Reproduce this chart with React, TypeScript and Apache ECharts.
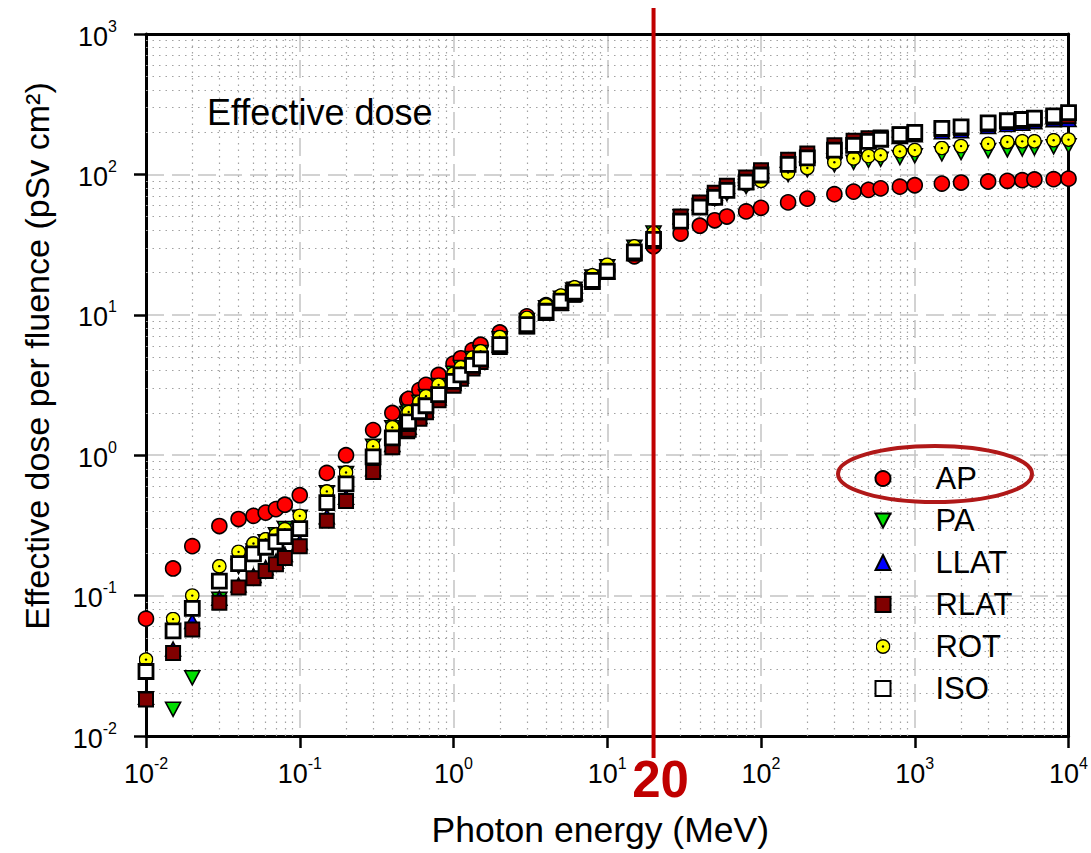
import React, { useEffect, useRef } from "react";
import * as echarts from "echarts";

const FONT = '"Liberation Sans", Arial, Helvetica, sans-serif';

// Photon energy (MeV)
const ENERGY = [
  0.01, 0.015, 0.02, 0.03, 0.04, 0.05, 0.06, 0.07, 0.08, 0.1,
  0.15, 0.2, 0.3, 0.4, 0.5, 0.511, 0.6, 0.662, 0.8, 1,
  1.117, 1.33, 1.5, 2, 3, 4, 5, 6, 6.129, 8, 10,
  15, 20, 30, 40, 50, 60, 80, 100,
  150, 200, 300, 400, 500, 600, 800, 1000,
  1500, 2000, 3000, 4000, 5000, 6000, 8000, 10000,
];

// Effective dose per fluence (pSv cm2)
const AP = [
  0.0685, 0.156, 0.225, 0.313, 0.351, 0.37, 0.39, 0.413, 0.444, 0.519,
  0.748, 1.0, 1.51, 2.0, 2.47, 2.52, 2.91, 3.17, 3.73, 4.49,
  4.9, 5.6, 6.12, 7.48, 9.75, 11.7, 13.4, 15.0, 15.2, 17.8, 20.5,
  26.1, 30.8, 37.9, 43.1, 47.1, 50.1, 54.5, 57.8,
  63.2, 67.2, 72.3, 75.4, 77.6, 79.5, 81.8, 83.7,
  86.0, 87.5, 89.0, 90.0, 91.0, 92.0, 92.5, 93.3,
];
const PA = [
  0.0184, 0.0155, 0.026, 0.094, 0.161, 0.208, 0.242, 0.271, 0.301, 0.361,
  0.541, 0.741, 1.16, 1.57, 1.98, 2.03, 2.38, 2.62, 3.13, 3.83,
  4.22, 4.89, 5.39, 6.75, 9.12, 11.2, 13.1, 15.0, 15.2, 18.6, 22.0,
  30.3, 38.2, 50.0, 60.0, 67.0, 73.0, 82.0, 90.0,
  100, 108, 117, 122, 126, 128, 132, 136,
  140, 143, 148, 150, 152, 154, 157, 160,
];
const LLAT = [
  0.0189, 0.0416, 0.0655, 0.0957, 0.119, 0.139, 0.158, 0.176, 0.196, 0.239,
  0.365, 0.502, 0.802, 1.19, 1.54, 1.58, 1.89, 2.1, 2.56, 3.24,
  3.65, 4.32, 4.79, 6.05, 8.26, 10.3, 12.1, 13.9, 14.1, 17.1, 20.2,
  27.3, 33.4, 49.7, 62.6, 73.3, 82.2, 94.0, 106,
  126, 140, 159, 172, 179, 181, 186, 192,
  201, 205, 219, 227, 231, 237, 245, 246,
];
const RLAT = [
  0.0182, 0.039, 0.0573, 0.0891, 0.114, 0.133, 0.15, 0.167, 0.185, 0.225,
  0.341, 0.471, 0.758, 1.14, 1.48, 1.52, 1.82, 2.02, 2.46, 3.12,
  3.51, 4.15, 4.61, 5.89, 8.26, 10.3, 12.1, 13.9, 14.1, 17.1, 20.2,
  27.3, 33.4, 50.2, 63.2, 74.0, 83.0, 95.0, 107,
  127, 141, 161, 174, 181, 183, 192, 197,
  210, 214, 228, 236, 240, 246, 254, 260,
];
const ROT = [
  0.035, 0.068, 0.1, 0.162, 0.205, 0.235, 0.252, 0.272, 0.297, 0.37,
  0.552, 0.753, 1.16, 1.58, 1.98, 2.03, 2.39, 2.63, 3.17, 3.8,
  4.22, 4.95, 5.5, 6.95, 9.5, 11.7, 13.7, 15.5, 15.7, 19.1, 22.7,
  30.7, 38.3, 47.0, 58.0, 67.0, 76.0, 85.0, 90.0,
  103, 111, 122, 130, 135, 137, 146, 149,
  154, 159, 165, 170, 172, 172, 175, 177,
];
const ISO = [
  0.0288, 0.056, 0.0812, 0.127, 0.169, 0.198, 0.221, 0.241, 0.263, 0.3,
  0.459, 0.625, 0.974, 1.33, 1.68, 1.73, 2.04, 2.25, 2.7, 3.36,
  3.73, 4.37, 4.85, 6.14, 8.52, 10.6, 12.5, 14.3, 14.5, 17.6, 20.5,
  28.1, 34.4, 46.5, 58.5, 68.5, 77.0, 88.0, 99.0,
  118, 131, 149, 161, 172, 178, 192, 199,
  213, 218, 233, 241, 246, 252, 261, 275,
];

const SERIES_NAMES = ["AP", "PA", "LLAT", "RLAT", "ROT", "ISO"];

// Axis ranges and decade exponents for ticks / minor grid
const X_MIN = 0.01;
const X_MAX = 10000;
const Y_MIN = 0.01;
const Y_MAX = 1000;
const X_DECADES = [-2, -1, 0, 1, 2, 3];
const Y_DECADES = [-2, -1, 0, 1, 2];
const MINOR_MULTS = [2, 3, 4, 5, 6, 7, 8, 9];
const MARK_ENERGY = 20;

const rotSvg =
  "<svg xmlns='http://www.w3.org/2000/svg' width='28' height='28' viewBox='0 0 28 28'>" +
  "<circle cx='14' cy='14' r='12.6' fill='#FFFF00' stroke='#000' stroke-width='2.6'/>" +
  "<circle cx='14' cy='14' r='2.2' fill='#000'/></svg>";
const ROT_SYMBOL = "image://data:image/svg+xml;charset=utf-8," + encodeURIComponent(rotSvg);
const DOWN_TRIANGLE = "path://M0,0L10,0L5,9.5Z";

function pairs(ys: number[]) {
  return ENERGY.map((e, i) => [e, ys[i]]);
}

function powLabel(v: number) {
  const e = Math.round(Math.log10(v));
  return "{b|10}{s|" + e + "}";
}

const labelRich = {
  b: { fontSize: 27, fontFamily: FONT, color: "#000", lineHeight: 32, verticalAlign: "bottom" },
  s: { fontSize: 16, fontFamily: FONT, color: "#000", lineHeight: 32, verticalAlign: "top" },
};

export default function App() {
  const ref = useRef<HTMLDivElement>(null);

  useEffect(() => {
    document.body.style.margin = "0";
    if (!ref.current) return;
    const chart = echarts.init(ref.current, undefined, { renderer: "svg" });

    const xMinor: number[] = [];
    X_DECADES.forEach((d) => MINOR_MULTS.forEach((m) => xMinor.push(m * Math.pow(10, d))));
    const yMinor: number[] = [];
    Y_DECADES.forEach((d) => MINOR_MULTS.forEach((m) => yMinor.push(m * Math.pow(10, d))));

    const border = { color: "#000", width: 1.6 };

    const option: any = {
      animation: false,
      backgroundColor: "#fff",
      grid: { left: 146, right: 21, top: 34, bottom: 114, show: false },
      xAxis: [
        {
          type: "log",
          logBase: 10,
          min: X_MIN,
          max: X_MAX,
          position: "bottom",
          axisLine: { show: true, onZero: false, lineStyle: { color: "#000", width: 3 } },
          axisTick: { show: true, inside: false, length: 12, lineStyle: { color: "#000", width: 2.5 } },
          axisLabel: { margin: 19, formatter: powLabel, rich: labelRich },
          splitLine: { show: true, lineStyle: { color: "#c4c4c4", width: 1.5, type: [18, 8] } },
          minorTick: { show: false },
          name: "Photon energy (MeV)",
          nameLocation: "middle",
          nameGap: 76,
          nameTextStyle: { fontSize: 35.5, fontFamily: FONT, color: "#000", padding: [0, 14, 0, 0] },
        },
        {
          type: "value",
          position: "top",
          min: 0,
          max: 1,
          axisLine: { show: true, onZero: false, lineStyle: { color: "#000", width: 3 } },
          axisTick: { show: false },
          axisLabel: { show: false },
          splitLine: { show: false },
        },
      ],
      yAxis: [
        {
          type: "log",
          logBase: 10,
          min: Y_MIN,
          max: Y_MAX,
          position: "left",
          axisLine: { show: true, onZero: false, lineStyle: { color: "#000", width: 3 } },
          axisTick: { show: true, inside: false, length: 12, lineStyle: { color: "#000", width: 2.5 } },
          axisLabel: { margin: 29, formatter: powLabel, rich: labelRich },
          splitLine: { show: true, lineStyle: { color: "#c4c4c4", width: 1.5, type: [18, 8] } },
          minorTick: { show: false },
        },
        {
          type: "value",
          position: "right",
          min: 0,
          max: 1,
          axisLine: { show: true, onZero: false, lineStyle: { color: "#000", width: 3 } },
          axisTick: { show: false },
          axisLabel: { show: false },
          splitLine: { show: false },
        },
      ],
      legend: {
        data: SERIES_NAMES,
        orient: "vertical",
        left: 874.5,
        top: 463,
        padding: 0,
        itemWidth: 15,
        itemHeight: 15,
        itemGap: 11,
        selectedMode: false,
        textStyle: { fontSize: 31, fontFamily: FONT, color: "#000", lineHeight: 30, padding: [0, 0, 0, 40] },
      },
      series: [
        {
          type: "scatter",
          name: "minor-grid",
          data: [],
          silent: true,
          z: 1,
          markLine: {
            silent: true,
            z: 1,
            symbol: "none",
            animation: false,
            label: { show: false },
            emphasis: { disabled: true },
            lineStyle: { color: "#a2a2a2", width: 1.2, type: [1.5, 5] },
            data: [
              ...xMinor.map((v) => ({ xAxis: v })),
              ...yMinor.map((v) => ({ yAxis: v })),
            ],
          },
        },
        {
          type: "scatter",
          name: "AP",
          data: pairs(AP),
          symbol: "circle",
          symbolSize: 15,
          z: 3,
          itemStyle: { color: "#FF0000", borderColor: border.color, borderWidth: border.width, opacity: 1 },
        },
        {
          type: "scatter",
          name: "PA",
          data: pairs(PA),
          symbol: DOWN_TRIANGLE,
          symbolSize: [15, 14],
          z: 3,
          itemStyle: { color: "#00DD00", borderColor: border.color, borderWidth: border.width, opacity: 1 },
        },
        {
          type: "scatter",
          name: "LLAT",
          data: pairs(LLAT),
          symbol: "triangle",
          symbolSize: [15, 14],
          z: 3,
          itemStyle: { color: "#0000FF", borderColor: border.color, borderWidth: border.width, opacity: 1 },
        },
        {
          type: "scatter",
          name: "RLAT",
          data: pairs(RLAT),
          symbol: "rect",
          symbolSize: 14,
          z: 3,
          itemStyle: { color: "#800000", borderColor: border.color, borderWidth: 2, opacity: 1 },
        },
        {
          type: "scatter",
          name: "ROT",
          data: pairs(ROT),
          symbol: ROT_SYMBOL,
          symbolSize: 15,
          z: 3,
          itemStyle: { color: "#FFFF00", opacity: 1 },
        },
        {
          type: "scatter",
          name: "ISO",
          data: pairs(ISO),
          symbol: "rect",
          symbolSize: 14,
          z: 3,
          itemStyle: { color: "#FFFFFF", borderColor: border.color, borderWidth: 2.8, opacity: 1 },
        },
      ],
    };

    chart.setOption(option);

    const px = chart.convertToPixel({ xAxisIndex: 0 }, MARK_ENERGY) as number;
    chart.setOption({
      graphic: [
        {
          type: "text",
          x: 207,
          y: 112,
          z: 50,
          style: {
            text: "Effective dose",
            font: "36px " + FONT,
            fill: "#000",
            align: "left",
            textAlign: "left",
            verticalAlign: "middle",
            textVerticalAlign: "middle",
          },
        },
        {
          type: "text",
          x: 37,
          y: 356,
          rotation: Math.PI / 2,
          z: 50,
          style: {
            text: "Effective dose per fluence (pSv cm²)",
            font: "34px " + FONT,
            fill: "#000",
            align: "center",
            textAlign: "center",
            verticalAlign: "middle",
            textVerticalAlign: "middle",
          },
        },
        {
          type: "line",
          z: 100,
          shape: { x1: px, y1: 8, x2: px, y2: 758 },
          style: { stroke: "#C00000", lineWidth: 4 },
        },
        {
          type: "text",
          x: px + 7,
          y: 779,
          z: 100,
          style: {
            text: String(MARK_ENERGY),
            font: "bold 51px " + FONT,
            fill: "#C00000",
            align: "center",
            textAlign: "center",
            verticalAlign: "middle",
            textVerticalAlign: "middle",
          },
        },
        {
          type: "ellipse",
          z: 100,
          shape: { cx: 935, cy: 474, rx: 97, ry: 28 },
          style: { fill: "none", stroke: "#B01818", lineWidth: 4 },
        },
      ],
    });

    return () => {
      chart.dispose();
    };
  }, []);

  return <div ref={ref} style={{ width: 1091, height: 853, overflow: "hidden" }} />;
}
